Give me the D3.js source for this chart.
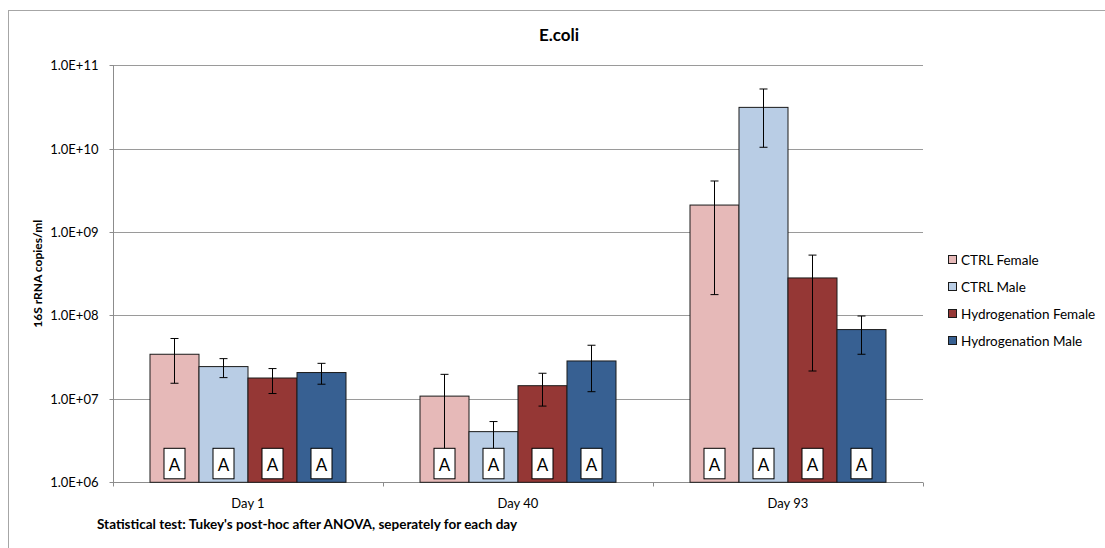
<!DOCTYPE html>
<html><head><meta charset="utf-8">
<script src="https://cdn.jsdelivr.net/npm/d3@7"></script>
<style>body{margin:0;background:#fff}svg{display:block}text{font-family:Lato,"Open Sans",sans-serif}</style>
</head><body>
<svg id="c" width="1105" height="548"></svg>
<script>
const categories = ["Day 1", "Day 40", "Day 93"];
const seriesNames = ["CTRL Female", "CTRL Male", "Hydrogenation Female", "Hydrogenation Male"];
const colors = ["#E6B9B8", "#B9CDE5", "#953735", "#376092"];
const ctrlFemale = [3.43e7, 1.08e7, 2.11e9];
const ctrlMale = [2.44e7, 4.05e6, 3.13e10];
const hydFemale = [1.78e7, 1.44e7, 2.82e8];
const hydMale = [2.07e7, 2.85e7, 6.78e7];
const ctrlFemaleErr = [[1.54e7, 5.3e7], [2.2e6, 1.97e7], [1.78e8, 4.1e9]];
const ctrlMaleErr = [[1.8e7, 3.04e7], [2.3e6, 5.35e6], [1.04e10, 5.2e10]];
const hydFemaleErr = [[1.16e7, 2.31e7], [8.2e6, 2.03e7], [2.16e7, 5.3e8]];
const hydMaleErr = [[1.5e7, 2.67e7], [1.22e7, 4.4e7], [3.43e7, 9.86e7]];
const letters = [["A","A","A","A"],["A","A","A","A"],["A","A","A","A"]];
const yTicks = [1e6, 1e7, 1e8, 1e9, 1e10, 1e11];
const yTickLabels = ["1.0E+06", "1.0E+07", "1.0E+08", "1.0E+09", "1.0E+10", "1.0E+11"];

const values = [ctrlFemale, ctrlMale, hydFemale, hydMale];
const errs = [ctrlFemaleErr, ctrlMaleErr, hydFemaleErr, hydMaleErr];

const svg = d3.select("#c");
const L = 113, R = 923, T = 65.3, B = 482.3;

// outer border
svg.append("rect").attr("x", 8.5).attr("y", 10.5).attr("width", 1110).attr("height", 560)
  .attr("fill", "none").attr("stroke", "#a6a6a6").attr("stroke-width", 1);

const x = d3.scaleBand().domain(categories).range([L, R]).paddingInner(0).paddingOuter(0);
const y = d3.scaleLog().domain([1e6, 1e11]).range([B, T]);
const groupPad = 37;
const xs = d3.scaleBand().domain(d3.range(4)).range([0, x.bandwidth() - 2 * groupPad]);

// gridlines
svg.append("g").selectAll("line").data(yTicks.slice(1)).join("line")
  .attr("x1", L).attr("x2", R).attr("y1", d => Math.round(y(d)) + 0.5).attr("y2", d => Math.round(y(d)) + 0.5)
  .attr("stroke", "#9a9a9a").attr("stroke-width", 1);

// y axis
const yAxis = d3.axisLeft(y).tickValues(yTicks).tickFormat((d, i) => yTickLabels[i]).tickSize(4).tickPadding(11);
const gy = svg.append("g").attr("transform", `translate(${L + 0.5},0)`).call(yAxis);
gy.selectAll("path, line").attr("stroke", "#8c8c8c");
gy.selectAll("text").attr("font-size", 13).attr("fill", "#000").attr("font-family", "Lato, sans-serif");
gy.selectAll(".tick").attr("transform", d => `translate(0,${Math.round(y(d)) + 0.5})`);
gy.select(".domain").attr("d", `M0,${T}V${B}`);

// x axis
const gx = svg.append("g").attr("transform", `translate(0,${Math.round(B) + 0.5})`);
gx.append("line").attr("x1", L).attr("x2", R).attr("stroke", "#8c8c8c");
const boundaries = [L, L + x.bandwidth(), L + 2 * x.bandwidth(), R];
gx.selectAll("line.tk").data(boundaries).join("line").attr("class", "tk")
  .attr("x1", d => Math.round(d) + 0.5).attr("x2", d => Math.round(d) + 0.5).attr("y1", 0).attr("y2", 4).attr("stroke", "#8c8c8c");
gx.selectAll("text").data(categories).join("text")
  .attr("x", d => x(d) + x.bandwidth() / 2).attr("y", 25).attr("text-anchor", "middle")
  .attr("font-size", 13).text(d => d);

// bars
categories.forEach((cat, ci) => {
  const g = svg.append("g").attr("transform", `translate(${x(cat) + groupPad},0)`);
  values.forEach((vals, si) => {
    const bx = xs(si), bw = xs.bandwidth(), v = vals[ci];
    g.append("rect").attr("x", bx).attr("y", y(v)).attr("width", bw).attr("height", B - y(v))
      .attr("fill", colors[si]).attr("stroke", "#1a1a1a").attr("stroke-width", 1);
  });
  values.forEach((vals, si) => {
    const cx = xs(si) + xs.bandwidth() / 2;
    const [lo, hi] = errs[si][ci];
    g.append("line").attr("x1", cx).attr("x2", cx).attr("y1", y(lo)).attr("y2", y(hi)).attr("stroke", "#000");
    [lo, hi].forEach(e => {
      if (y(e) < B - 34) g.append("line").attr("x1", cx - 4).attr("x2", cx + 4).attr("y1", y(e)).attr("y2", y(e)).attr("stroke", "#000");
    });
    g.append("rect").attr("x", cx - 10.5).attr("y", B - 34).attr("width", 21).attr("height", 30.5)
      .attr("fill", "#fff").attr("stroke", "#000").attr("stroke-width", 1);
    g.append("text").attr("x", cx).attr("y", B - 11).attr("text-anchor", "middle")
      .attr("font-size", 17).attr("font-family", "Liberation Sans, Arial, sans-serif").text(letters[ci][si]);
  });
});

// title
svg.append("text").attr("x", 559).attr("y", 41).attr("text-anchor", "middle")
  .attr("font-size", 17).attr("font-weight", "bold").text("E.coli");

// y label
svg.append("text").attr("transform", `translate(42,${(T + B) / 2}) rotate(-90)`).attr("text-anchor", "middle")
  .attr("font-size", 12).attr("font-weight", "bold").text("16S rRNA copies/ml");

// footer
svg.append("text").attr("x", 97).attr("y", 529).attr("font-size", 13.5).attr("font-weight", "bold")
  .text("Statistical test: Tukey's post-hoc after ANOVA, seperately for each day");

// legend
const lg = svg.append("g").attr("transform", "translate(948,0)");
seriesNames.forEach((n, i) => {
  const yy = 260 + i * 27;
  lg.append("rect").attr("x", 0.5).attr("y", yy - 4.5).attr("width", 8).attr("height", 8)
    .attr("fill", colors[i]).attr("stroke", "#1a1a1a");
  lg.append("text").attr("x", 13).attr("y", yy + 4.5).attr("font-size", 13.5).text(n);
});
</script>
</body></html>
